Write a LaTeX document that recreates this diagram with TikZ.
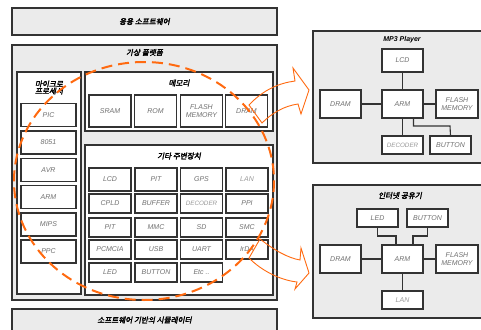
\documentclass[tikz,border=0pt]{standalone}
\usepackage{fontspec}
\setmainfont{Liberation Sans}
\newfontfamily\krfont[FakeSlant=0.2,FakeBold=2.5]{Noto Sans CJK KR}
\newfontfamily\itfont{Liberation Sans}
\definecolor{boxgray}{HTML}{EBEBEB}
\definecolor{edge}{HTML}{333333}
\definecolor{txt}{HTML}{707070}
\definecolor{ltxt}{HTML}{9A9A9A}
\definecolor{org}{HTML}{FF6A10}
\tikzset{
  outerbox/.style={draw=edge, line width=1.1pt, fill=boxgray},
  groupbox/.style={draw=edge, line width=1.1pt, fill=white},
  item/.style={draw=edge, line width=1.1pt, fill=white, text=txt, inner sep=0pt,
    align=center, font=\itfont\itshape\fontsize{7}{7.5}\selectfont},
  litem/.style={item, text=ltxt, font=\itfont\itshape\fontsize{6.3}{7}\selectfont},
  title/.style={font=\krfont\fontsize{7.6}{8.6}\selectfont, text=black, align=center, inner sep=0pt},
  etitle/.style={font=\itfont\bfseries\itshape\fontsize{7}{8}\selectfont, text=black, inner sep=0pt},
  conn/.style={draw=edge, line width=1.1pt},
  blockarrow/.style={draw=org, line width=0.9pt, line join=miter},
  dashring/.style={draw=org, line width=2pt, dash pattern=on 11pt off 6pt}
}
\begin{document}
\begin{tikzpicture}[x=1pt,y=-1pt]
\useasboundingbox (0,0) rectangle (481,329);
\clip (0,0) rectangle (481,329);
\fill[white] (0,0) rectangle (481,329);

% left stack
\draw[outerbox] (12,8) rectangle (277,35);
\node[title] (app) at (144.5,21.5) {응용 소프트웨어};
\draw[outerbox] (12,45) rectangle (277,300);
\node[title] (vp) at (144.5,52.5) {가상 플랫폼};
\draw[outerbox] (12,309) rectangle (277,345);
\node[title] (sim) at (144.5,320) {소프트웨어 기반의 시뮬레이터};

\draw[groupbox] (17,72) rectangle (81,294);
\node[title] (mcu) at (49,87.5) {마이크로\\[-1.5pt]프로세서};
\draw[groupbox] (85,72) rectangle (273,131);
\node[title] (mem) at (179,83) {메모리};
\draw[groupbox] (85,145) rectangle (273,295);
\node[title] (per) at (179,156) {기타 주변장치};

\tikzset{mi/.style={item, minimum width=55pt, minimum height=23pt}}
\node[mi] (pic) at (48.5,115) {PIC};
\node[mi] (i8051) at (48.5,142.5) {8051};
\node[mi] (avr) at (48.5,170) {AVR};
\node[mi] (armc) at (48.5,197) {ARM};
\node[mi] (mips) at (48.5,224.5) {MIPS};
\node[mi] (ppc) at (48.5,251.5) {PPC};

\tikzset{me/.style={item, minimum width=42pt, minimum height=32pt}}
\node[me] (sram) at (110,111) {SRAM};
\node[me] (rom) at (155.5,111) {ROM};
\node[me] (flash) at (201.5,111) {FLASH\\MEMORY};
\node[me] (dram) at (246.5,111) {DRAM};

\tikzset{pa/.style={item, minimum width=42pt, minimum height=23pt},
         pb/.style={item, minimum width=42pt, minimum height=19pt}}
\node[pa] (lcd) at (110,179.5) {LCD};
\node[pa] (pit) at (156,179.5) {PIT};
\node[pa] (gps) at (201.5,179.5) {GPS};
\node[pa, text=ltxt] (lan) at (247,179.5) {LAN};
\node[pb] (cpld) at (110,203.5) {CPLD};
\node[pb] (buffer) at (156,203.5) {BUFFER};
\node[pb, litem] (decoder) at (201.5,203.5) {DECODER};
\node[pb] (ppi) at (247,203.5) {PPI};
\node[pb] (pit2) at (110,227.5) {PIT};
\node[pb] (mmc) at (156,227.5) {MMC};
\node[pb] (sd) at (201.5,227.5) {SD};
\node[pb] (smc) at (247,227.5) {SMC};
\node[pb] (pcmcia) at (110,249.5) {PCMCIA};
\node[pb] (usb) at (156,249.5) {USB};
\node[pb] (uart) at (201.5,249.5) {UART};
\node[pb] (irda) at (247,249.5) {IrDA};
\node[pb] (led) at (110,272.5) {LED};
\node[pb] (button) at (156,272.5) {BUTTON};
\node[pb] (etc) at (201.5,272.5) {Etc ..};

% MP3 player
\draw[outerbox] (313,31) rectangle (490,163);
\node[etitle] (mp3) at (402,40) {MP3 Player};
\tikzset{rb/.style={item, minimum width=41pt, minimum height=28pt},
         rs/.style={item, minimum width=41pt, minimum height=18pt}}
\node[item, minimum width=41pt, minimum height=23pt] (mlcd) at (402.5,60.5) {LCD};
\node[rb] (mdram) at (340.5,104) {DRAM};
\node[rb] (marm) at (402.5,104) {ARM};
\node[rb, minimum width=42pt] (mflash) at (457,104) {FLASH\\MEMORY};
\node[rs, litem] (mdec) at (402.5,145) {DECODER};
\node[rs] (mbtn) at (450.5,145) {BUTTON};
\draw[conn] (mlcd) -- (marm);
\draw[conn] (mdram) -- (marm);
\draw[conn] (marm) -- (mflash);
\draw[conn] (marm) -- (mdec);
\draw[conn] ([xshift=11pt]marm.south) |- (450,126) -- (mbtn.north);

% router
\draw[outerbox] (313,185) rectangle (490,318);
\node[title] (rt) at (400,195.5) {인터넷 공유기};
\node[rs] (rled) at (377.5,218) {LED};
\node[rs] (rbtn) at (427.5,218) {BUTTON};
\node[rb] (rdram) at (340.5,259) {DRAM};
\node[rb] (rarm) at (402.5,259) {ARM};
\node[rb, minimum width=42pt] (rflash) at (457,259) {FLASH\\MEMORY};
\node[rs, text=ltxt] (rlan) at (402.5,300) {LAN};
\draw[conn] (rled.south) |- (396,236) -- ([xshift=-6.5pt]rarm.north);
\draw[conn] (rbtn.south) |- (413,236) -- ([xshift=10.5pt]rarm.north);
\draw[conn] (rdram) -- (rarm);
\draw[conn] (rarm) -- (rflash);
\draw[conn] (rarm) -- (rlan);

% dashed ring
\draw[dashring] (144,181) ellipse [x radius=130, y radius=119];

% block arrows
\draw[blockarrow] (249,105) .. controls (264,89) and (280,83) .. (295,81) -- (293,68) -- (309,90)
  -- (301,114) -- (298,104) .. controls (284,106) and (272,113) .. (262,123) -- cycle;
\draw[blockarrow] (260,239) .. controls (274,250) and (288,258) .. (300,260) -- (301,248) -- (309,273)
  -- (295,289) -- (297,282) .. controls (280,280) and (262,271) .. (249,258) -- cycle;
\end{tikzpicture}
\end{document}
